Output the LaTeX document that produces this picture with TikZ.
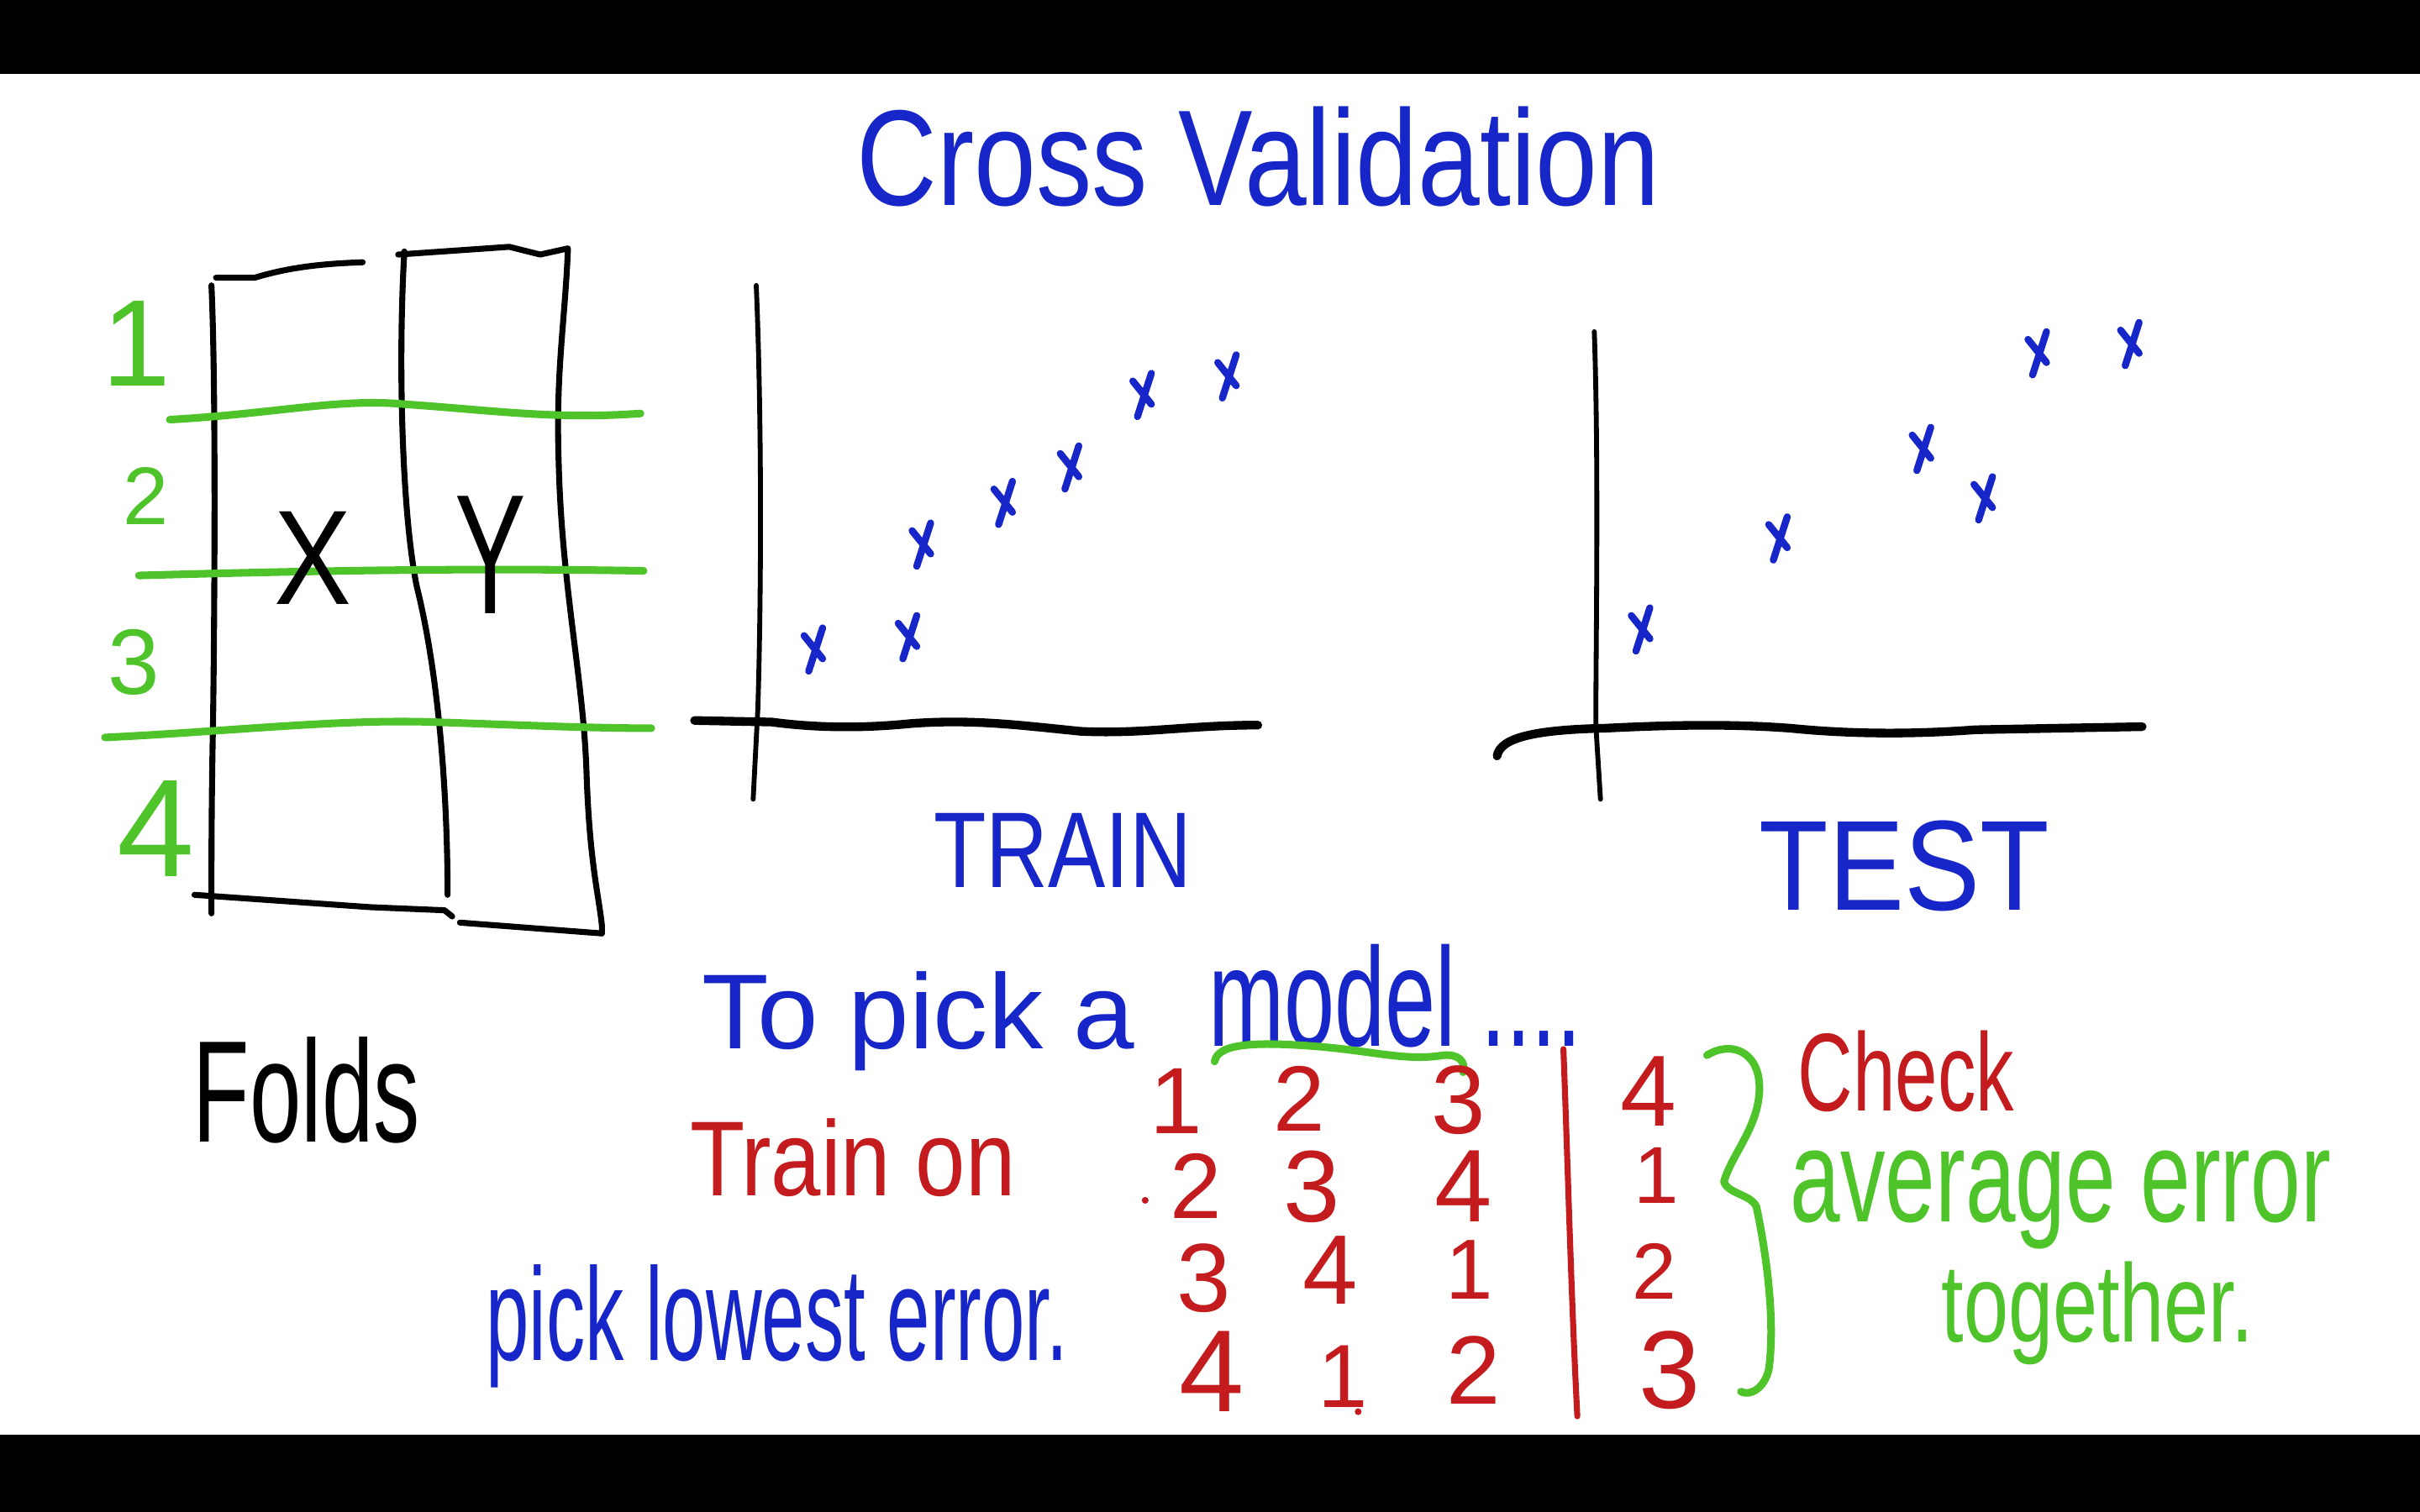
\documentclass[tikz,border=0pt]{standalone}
\usepackage{fontspec}
\setmainfont{Liberation Sans}
\definecolor{penblue}{RGB}{22,38,200}
\definecolor{penred}{RGB}{196,28,30}
\definecolor{pengreen}{RGB}{78,196,42}
\tikzset{
  txt/.style={inner sep=0pt, outer sep=0pt, anchor=base west},
  ctxt/.style={inner sep=0pt, outer sep=0pt, anchor=base},
  blackline/.style={draw=black, line width=1.1pt},
  greenline/.style={draw=pengreen, line width=1.4pt},
  axisv/.style={draw=black, line width=0.9pt},
  axish/.style={draw=black, line width=1.6pt},
  redline/.style={draw=penred, line width=1.1pt},
  xmark/.pic={\draw[penblue, line width=1.3pt] (-6,-8) -- (6,7) (6,-13) -- (-3,15);}
}
\newcommand\fitbox[3]{\resizebox{#1cm}{#2cm}{#3}}
\newcommand\digitbox[2]{\resizebox{!}{#1cm}{#2}}
\begin{document}
\begin{tikzpicture}[x=0.01cm,y=-0.01cm,line cap=round,line join=round]
\useasboundingbox (0,0) rectangle (1568,980);
\fill[white] (0,0) rectangle (1568,980);
\fill[black] (0,0) rectangle (1568,48);
\fill[black] (0,930) rectangle (1568,980);

% title
\node[txt,text=penblue] (title) at (555,133) {\fitbox{5.2}{0.64}{Cross Validation}};

% folds table
\draw[blackline] (137,185) .. controls (140,250) and (139,400) .. (138,470) .. controls (137,520) and (137,560) .. (137,592);
\draw[blackline] (140,180) -- (165,180) .. controls (185,174) and (205,171) .. (235,170);
\draw[blackline] (262,163) .. controls (258,230) and (260,330) .. (270,380) .. controls (285,440) and (290,520) .. (290,580);
\draw[blackline] (258,165) -- (330,160) -- (350,165) -- (368,161) .. controls (366,210) and (360,240) .. (362,300) .. controls (364,380) and (378,440) .. (380,500) .. controls (382,560) and (388,580) .. (390,600) -- (390,605);
\draw[blackline] (126,580) -- (240,588) -- (288,590) -- (293,594);
\draw[blackline] (298,598) -- (390,605);

\draw[greenline] (110,272) .. controls (180,268) and (220,258) .. (262,262) .. controls (320,266) and (360,272) .. (415,268);
\draw[greenline] (90,373) .. controls (200,370) and (300,368) .. (417,370);
\draw[greenline] (68,478) .. controls (150,474) and (220,466) .. (280,468) .. controls (340,470) and (380,472) .. (422,472);

\node[txt,text=pengreen] (f1) at (66,250) {\digitbox{0.55}{1}};
\node[txt,text=pengreen] (f2) at (80,340) {\digitbox{0.37}{2}};
\node[txt,text=pengreen] (f3) at (70,450) {\digitbox{0.42}{3}};
\node[txt,text=pengreen] (f4) at (76,568) {\digitbox{0.62}{4}};

\node[ctxt] (xl) at (203,392) {\fitbox{0.50}{0.60}{X}};
\node[ctxt] (yl) at (318,398) {\fitbox{0.46}{0.76}{Y}};

\node[txt] (folds) at (125,740) {\fitbox{1.47}{0.68}{Folds}};

% TRAIN plot
\draw[axisv] (490,185) .. controls (494,280) and (493,400) .. (491,460) -- (488,518);
\draw[axish] (450,467) -- (500,468) .. controls (530,472) and (560,472) .. (590,469) .. controls (630,466) and (660,470) .. (700,474) .. controls (740,476) and (770,470) .. (815,470);
\pic at (527,420) {xmark};
\pic at (588,412) {xmark};
\pic at (597,352) {xmark};
\pic at (650,325) {xmark};
\pic at (693,302) {xmark};
\pic at (740,255) {xmark};
\pic at (795,243) {xmark};
\node[txt,text=penblue] (train) at (605,575) {\fitbox{1.67}{0.48}{TRAIN}};

% TEST plot
\draw[axisv] (1033,215) .. controls (1036,300) and (1034,420) .. (1034,470) -- (1037,518);
\draw[axish] (970,490) .. controls (972,478) and (995,473) .. (1040,472) .. controls (1080,470) and (1120,469) .. (1160,472) .. controls (1200,476) and (1240,476) .. (1280,473) -- (1388,471);
\pic at (1063,407) {xmark};
\pic at (1152,348) {xmark};
\pic at (1245,290) {xmark};
\pic at (1285,322) {xmark};
\pic at (1320,228) {xmark};
\pic at (1380,222) {xmark};
\node[txt,text=penblue] (test) at (1140,590) {\fitbox{1.88}{0.58}{TEST}};

% bottom text
\node[txt,text=penblue] (pick) at (455,680) {\fitbox{2.80}{0.50}{To pick a}};
\node[txt,text=penblue] (model) at (783,678) {\fitbox{2.42}{0.66}{model ....}};
\draw[greenline] (787,688) .. controls (789,677) and (810,675) .. (850,678) .. controls (890,681) and (910,688) .. (935,684) .. controls (945,683) and (950,688) .. (948,695);
\node[txt,text=penred] (trainon) at (447,775) {\fitbox{2.11}{0.50}{Train on}};
\node[txt,text=penblue] (lowest) at (315,882) {\fitbox{3.77}{0.62}{pick lowest error.}};

% fold matrix
\node[ctxt,text=penred] (m11) at (762,735) {\digitbox{0.42}{1}};
\node[ctxt,text=penred] (m12) at (842,733) {\digitbox{0.42}{2}};
\node[ctxt,text=penred] (m13) at (945,735) {\digitbox{0.44}{3}};
\node[ctxt,text=penred] (m21) at (775,790) {\digitbox{0.42}{2}};
\node[ctxt,text=penred] (m22) at (850,792) {\digitbox{0.46}{3}};
\node[ctxt,text=penred] (m23) at (948,792) {\digitbox{0.46}{4}};
\node[ctxt,text=penred] (m31) at (780,850) {\digitbox{0.44}{3}};
\node[ctxt,text=penred] (m32) at (862,845) {\digitbox{0.44}{4}};
\node[ctxt,text=penred] (m33) at (952,842) {\digitbox{0.38}{1}};
\node[ctxt,text=penred] (m41) at (785,915) {\digitbox{0.52}{4}};
\node[ctxt,text=penred] (m42) at (870,912) {\digitbox{0.40}{1}};
\node[ctxt,text=penred] (m43) at (955,910) {\digitbox{0.44}{2}};
\node[ctxt,text=penred] (t1) at (1068,730) {\digitbox{0.45}{4}};
\node[ctxt,text=penred] (t2) at (1073,780) {\digitbox{0.36}{1}};
\node[ctxt,text=penred] (t3) at (1072,842) {\digitbox{0.36}{2}};
\node[ctxt,text=penred] (t4) at (1082,913) {\digitbox{0.50}{3}};
\fill[penred] (742,778) circle (2.2);
\fill[penred] (880,915) circle (2.2);
\draw[redline] (1013,680) .. controls (1016,760) and (1018,840) .. (1022,918);

% brace and notes
\draw[greenline] (1106,684) .. controls (1122,674) and (1140,682) .. (1140,705) .. controls (1140,730) and (1122,748) .. (1117,766) .. controls (1120,774) and (1134,774) .. (1138,782) .. controls (1146,820) and (1150,860) .. (1146,888) .. controls (1143,900) and (1134,905) .. (1128,902);
\node[txt,text=penred] (check) at (1165,720) {\fitbox{1.40}{0.52}{Check}};
\node[txt,text=pengreen] (avg) at (1160,792) {\fitbox{3.50}{0.46}{average error}};
\node[txt,text=pengreen] (together) at (1258,870) {\fitbox{2.02}{0.52}{together.}};
\end{tikzpicture}
\end{document}
